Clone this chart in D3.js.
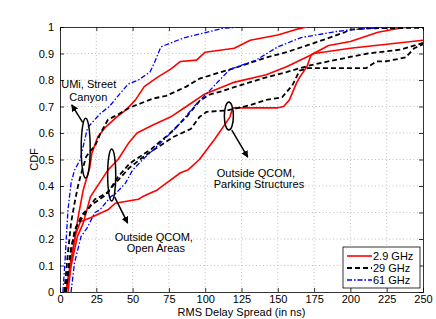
<!DOCTYPE html>
<html>
<head>
<meta charset="utf-8">
<script src="https://cdn.jsdelivr.net/npm/d3@7"></script>
<style>
  body { margin: 0; background: #fff; }
  svg text { font-family: "Liberation Sans", Arial, sans-serif; }
</style>
</head>
<body>
<div id="chart"></div>
<script>
// chart size and plot margins
let width = 436, height = 319;
let margin = {top: 27, right: 13, bottom: 27, left: 60};

// tick values
let x_ticks = [0, 25, 50, 75, 100, 125, 150, 175, 200, 225, 250];
let y_ticks = [0, 0.1, 0.2, 0.3, 0.4, 0.5, 0.6, 0.7, 0.8, 0.9, 1];
let y_tick_labels = ["0", "0.1", "0.2", "0.3", "0.4", "0.5", "0.6", "0.7", "0.8", "0.9", "1"];

// legend entries
let freqs = ["2.9 GHz", "29 GHz", "61 GHz"];

// [delay spread (ns), CDF]
// UMi, Street Canyon
let red_umi = [[4,0],[5.5,0.03],[9,0.16],[12.4,0.28],[16,0.385],[20.5,0.47],[22,0.525],[26,0.585],[31,0.62],
  [39,0.66],[45,0.685],[52,0.725],[58,0.775],[67,0.81],[76,0.84],[83,0.87],[94,0.875],[100,0.905],[120,0.92],
  [131,0.95],[150,0.97],[162,0.99],[170,1]];
let black_umi = [[3,0],[5.5,0.15],[7.6,0.26],[10,0.335],[12.4,0.4],[14.5,0.445],[18,0.51],[20.5,0.53],[24,0.55],
  [28,0.6],[33,0.65],[40,0.67],[46,0.69],[50,0.7],[64,0.73],[73,0.74],[87,0.775],[96,0.805],[105,0.82],
  [123,0.85],[142,0.885],[156,0.905],[178,0.945],[196,0.98],[200,0.99],[212,0.995],[250,0.997]];
let blue_umi = [[2,0],[3.4,0.11],[4.4,0.21],[5.5,0.31],[7.6,0.41],[10,0.46],[14,0.5],[16,0.55],[19,0.62],
  [28,0.675],[34,0.7],[40,0.74],[47,0.785],[54,0.8],[62,0.83],[65,0.865],[69.5,0.925],[81,0.95],[86,0.96],
  [101,0.98],[112,0.995],[125,1]];

// Outside QCOM, Open Areas
let red_open = [[5.5,0],[7.5,0.095],[12,0.21],[16,0.26],[21,0.36],[33,0.46],[40,0.5],[47,0.56],[53,0.6],
  [64,0.63],[76,0.66],[87,0.7],[99,0.745],[119,0.79],[142,0.82],[156,0.85],[175,0.9],[200,0.92],[250,0.95]];
let black_open = [[4,0],[7.5,0.16],[11,0.245],[19,0.31],[24,0.35],[33,0.375],[40,0.435],[48,0.485],[52,0.5],
  [63,0.54],[76,0.6],[87,0.66],[96,0.72],[103,0.745],[110,0.755],[124,0.78],[142,0.81],[156,0.83],[172,0.855],
  [189,0.875],[212,0.9],[235,0.915],[250,0.94]];
let blue_open = [[7.6,0],[10,0.11],[14.5,0.21],[18.5,0.24],[24,0.3],[27.5,0.31],[35,0.36],[38,0.37],[45,0.41],
  [50,0.46],[57,0.5],[64,0.535],[80,0.62],[94,0.71],[103,0.76],[117,0.84],[135,0.875],[150,0.925],[166,0.96],
  [187,0.98],[200,0.99],[230,1]];

// Outside QCOM, Parking Structures
let red_park = [[4,0],[7.5,0.12],[11,0.22],[14,0.265],[21,0.28],[33,0.31],[38,0.335],[54,0.35],[57,0.36],
  [67,0.385],[73,0.41],[83,0.45],[88,0.46],[96,0.5],[107,0.58],[117,0.66],[119,0.695],[135,0.695],[150,0.695],
  [154,0.7],[158,0.725],[163,0.79],[165,0.81],[170,0.85],[173,0.895],[185,0.93],[200,0.945],[219,0.98],
  [234,0.995],[240,1]];
let black_park = [[4,0],[7,0.14],[10,0.23],[15,0.29],[22,0.33],[30,0.36],[38,0.41],[48,0.47],[60,0.52],
  [78,0.585],[90,0.615],[96,0.66],[101,0.68],[115,0.685],[131,0.705],[142,0.725],[153,0.735],[160,0.78],
  [165,0.835],[171,0.845],[211,0.845],[218,0.87],[224,0.87],[238,0.885],[244,0.92],[250,0.935]];

let series = [
  {values: red_umi, f: 0}, {values: red_open, f: 0}, {values: red_park, f: 0},
  {values: black_umi, f: 1}, {values: black_open, f: 1}, {values: black_park, f: 1},
  {values: blue_umi, f: 2}, {values: blue_open, f: 2}
];
let styles = [
  {color: "#ff0000", dash: null, w: 1.6},
  {color: "#000000", dash: "5,3", w: 1.8},
  {color: "#0000ff", dash: "5,2,1.5,2", w: 1.3}
];

let plot_w = width - margin.left - margin.right;
let plot_h = height - margin.top - margin.bottom;

let svg = d3.select("#chart")
    .append("svg")
    .attr("width", width)
    .attr("height", height)
    .append("g")
    .attr("transform", `translate(${margin.left}, ${margin.top})`);

let x = d3.scaleLinear().domain([0, 250]).range([0, plot_w]);
let y = d3.scaleLinear().domain([0, 1]).range([plot_h, 0]);

// grid
let grid = svg.append("g");
grid.selectAll(".gx").data(x_ticks.slice(1, -1)).enter().append("line")
    .attr("x1", d => x(d)).attr("x2", d => x(d))
    .attr("y1", 0).attr("y2", plot_h)
    .attr("stroke", "#b0b0b0").attr("stroke-width", 0.8).attr("stroke-dasharray", "1,2.5");
grid.selectAll(".gy").data(y_ticks.slice(1, -1)).enter().append("line")
    .attr("y1", d => y(d)).attr("y2", d => y(d))
    .attr("x1", 0).attr("x2", plot_w)
    .attr("stroke", "#b0b0b0").attr("stroke-width", 0.8).attr("stroke-dasharray", "1,2.5");

// axes (ticks inward, MATLAB style)
let xAxis = svg.append("g")
    .attr("transform", `translate(0, ${plot_h})`)
    .call(d3.axisBottom(x).tickValues(x_ticks).tickSize(-4).tickPadding(3));
let yAxis = svg.append("g")
    .call(d3.axisLeft(y).tickValues(y_ticks).tickSize(-4).tickPadding(6)
      .tickFormat((d, i) => y_tick_labels[i]));
let xTop = svg.append("g")
    .call(d3.axisTop(x).tickValues(x_ticks).tickSize(-4).tickFormat(""));
let yRight = svg.append("g")
    .attr("transform", `translate(${plot_w}, 0)`)
    .call(d3.axisRight(y).tickValues(y_ticks).tickSize(-4).tickFormat(""));
[xAxis, yAxis, xTop, yRight].forEach(a => {
  a.selectAll("path").attr("stroke", "#000").attr("stroke-width", 0.8);
  a.selectAll("line").attr("stroke", "#000").attr("stroke-width", 0.8);
  a.selectAll("text").attr("fill", "#000").style("font-size", "11px");
});

// clip
svg.append("clipPath").attr("id", "clip")
    .append("rect").attr("width", plot_w).attr("height", plot_h);

let line = d3.line().x(d => x(d[0])).y(d => y(d[1]));

svg.append("g").attr("clip-path", "url(#clip)")
    .selectAll("path").data(series).enter().append("path")
    .attr("d", d => line(d.values))
    .attr("fill", "none")
    .attr("stroke", d => styles[d.f].color)
    .attr("stroke-width", d => styles[d.f].w)
    .attr("stroke-dasharray", d => styles[d.f].dash)
    .attr("stroke-linejoin", "round");

// annotations
let defs = svg.append("defs");
defs.append("marker").attr("id", "arrow")
    .attr("viewBox", "0 0 10 10").attr("refX", 9).attr("refY", 5)
    .attr("markerWidth", 7).attr("markerHeight", 7).attr("markerUnits", "userSpaceOnUse")
    .attr("orient", "auto")
    .append("path").attr("d", "M0,0 L10,5 L0,10 Z").attr("fill", "#000");

let ellipses = [
  {cx: 17.7, cy: 0.543, rx: 3.1, ry: 0.113},
  {cx: 35.6, cy: 0.4415, rx: 2.8, ry: 0.098},
  {cx: 116.3, cy: 0.664, rx: 3.1, ry: 0.053}
];
let arrows = [
  {x1: 15.6, y1: 0.64, x2: 8.1, y2: 0.706},
  {x1: 37.7, y1: 0.358, x2: 46.6, y2: 0.26},
  {x1: 118.3, y1: 0.611, x2: 129.3, y2: 0.509}
];
let labels = [
  {x: 19.8, y: 0.785, t: "UMi, Street"},
  {x: 19.5, y: 0.736, t: "Canyon"},
  {x: 64.6, y: 0.208, t: "Outside QCOM,"},
  {x: 66, y: 0.165, t: "Open Areas"},
  {x: 134.9, y: 0.449, t: "Outside QCOM,"},
  {x: 137, y: 0.407, t: "Parking Structures"}
];

svg.selectAll(".ell").data(ellipses).enter().append("ellipse")
    .attr("cx", d => x(d.cx)).attr("cy", d => y(d.cy))
    .attr("rx", d => x(d.rx) - x(0)).attr("ry", d => y(0) - y(d.ry))
    .attr("fill", "none").attr("stroke", "#000").attr("stroke-width", 1.5);
svg.selectAll(".arr").data(arrows).enter().append("line")
    .attr("x1", d => x(d.x1)).attr("y1", d => y(d.y1))
    .attr("x2", d => x(d.x2)).attr("y2", d => y(d.y2))
    .attr("stroke", "#000").attr("stroke-width", 1.5)
    .attr("marker-end", "url(#arrow)");
svg.selectAll(".lab").data(labels).enter().append("text")
    .attr("x", d => x(d.x)).attr("y", d => y(d.y))
    .attr("dy", "0.35em")
    .style("text-anchor", "middle").style("font-size", "11px")
    .text(d => d.t);

// axis titles
svg.append("text")
    .attr("transform", `translate(${plot_w / 2}, ${plot_h + 24})`)
    .style("text-anchor", "middle").style("font-size", "11px")
    .text("RMS Delay Spread (in ns)");
svg.append("text")
    .attr("transform", `translate(-22, ${plot_h / 2}) rotate(-90)`)
    .style("text-anchor", "middle").style("font-size", "11px")
    .text("CDF");

// legend
let legend = svg.append("g").attr("transform", `translate(${plot_w - 80}, ${plot_h - 45})`);
legend.append("rect").attr("width", 77).attr("height", 41)
    .attr("fill", "#fff").attr("stroke", "#000").attr("stroke-width", 0.8);
freqs.forEach((f, i) => {
  legend.append("line")
    .attr("x1", 4).attr("x2", 29).attr("y1", 9 + i * 12).attr("y2", 9 + i * 12)
    .attr("stroke", styles[i].color).attr("stroke-width", styles[i].w)
    .attr("stroke-dasharray", styles[i].dash);
  legend.append("text")
    .attr("x", 30).attr("y", 9 + i * 12).attr("dy", "0.35em")
    .style("font-size", "11px").text(f);
});
</script>
</body>
</html>
